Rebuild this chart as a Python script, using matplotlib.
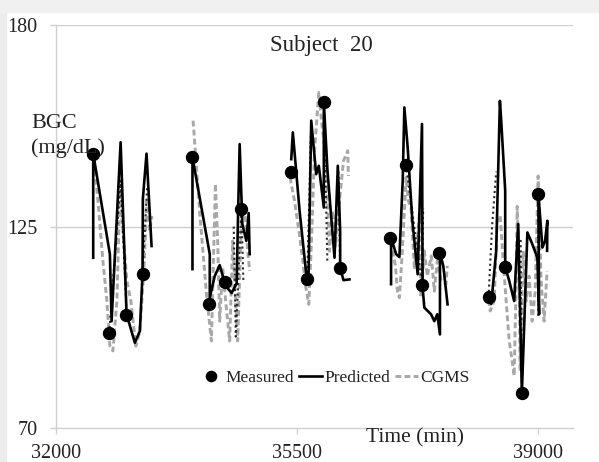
import matplotlib.pyplot as plt
import matplotlib.patches as mpatches
import numpy as np

plt.rcParams['font.family'] = ['Liberation Serif', 'DejaVu Serif']

nan = np.nan

# measured finger-stick values
meas_x = [32532, 32772, 33014, 33256,
          33975, 34217, 34459, 34691,
          35405, 35647, 35888, 36125,
          36850, 37082, 37313, 37564,
          38279, 38521, 38763, 39003]
meas_y = [144.9, 95.9, 100.8, 112.2,
          143.9, 103.8, 109.9, 129.9,
          139.9, 110.8, 158.9, 113.8,
          122.0, 141.8, 109.0, 117.9,
          105.8, 114.0, 79.6, 133.9]

# model prediction (nan splits the days)
pred_x = [32540, 32540, 32782, 32807, 32938, 33024, 33145, 33217, 33256, 33261, 33314, 33387, nan,
          33981, 33981, 34232, 34232, 34304, 34376, 34463, 34550, 34623, 34644, 34666, 34705, 34763, 34797, 34811, nan,
          35415, 35438, 35536, 35633, 35666, 35705, 35777, 35815, 35888, 35888, 35941, 36043, 36091, 36125, 36125, 36173, 36260, nan,
          36864, 36864, 36937, 36985, 37033, 37057, 37105, 37173, 37250, 37313, 37322, 37347, 37444, 37492, 37535, 37574, 37574, 37622, 37684, nan,
          38279, 38318, 38390, 38444, 38463, 38521, 38521, 38579, 38651, 38710, 38763, 38843, 38915, 38988, 39013, 39003, 39061, 39100, 39133, 39129]
pred_y = [116.5, 144.9, 117.5, 99.2, 148.0, 101.1, 93.3, 96.5, 112.2, 132.6, 144.9, 119.7, nan,
          113.4, 143.9, 117.5, 105.6, 111.5, 114.5, 108.8, 106.9, 109.6, 129.3, 147.5, 125.7, 121.1, 128.7, 117.5, nan,
          143.4, 150.7, 129.3, 112.0, 111.5, 153.9, 139.3, 141.6, 130.2, 158.9, 140.2, 116.5, 141.6, 123.8, 113.8, 110.4, 110.6, nan,
          109.3, 122.0, 117.5, 116.7, 137.5, 157.5, 146.6, 126.6, 112.0, 153.0, 108.3, 102.9, 101.1, 99.2, 101.1, 95.6, 117.9, 114.3, 103.8, nan,
          105.8, 103.9, 118.3, 159.3, 153.9, 134.8, 114.0, 110.2, 104.7, 125.7, 79.6, 123.4, 120.2, 116.5, 101.1, 133.9, 119.3, 121.1, 126.6, 118.4]

# continuous glucose monitor
cgms_x = [32551, 32609, 32681, 32739, 32782, 32826, 32884, 32927, 32971, 33029, 33087, 33159, 33217, 33275, 33319, 33362, 33391, nan,
          33990, 34043, 34087, 34145, 34184, 34256, 34289, 34314, 34347, 34376, 34420, 34463, 34521, 34565, 34608, 34637, 34691, 34739, 34782, 34811, nan,
          35376, 35420, 35463, 35536, 35583, 35623, 35670, 35709, 35753, 35815, 35854, 35922, 35970, 36014, 36057, 36115, 36173, 36235, 36245, nan,
          36883, 36927, 36956, 36985, 37028, 37082, 37115, 37154, 37202, 37245, 37274, 37298, 37347, 37390, 37448, 37492, 37535, 37593, 37661, 37680, nan,
          38260, 38303, 38361, 38405, 38448, 38492, 38535, 38579, 38622, 38651, 38680, 38695, 38724, 38738, 38782, 38825, 38869, 38912, 38956, 38999, 39042, 39086, 39129]
cgms_y = [142.9, 132.0, 115.6, 104.7, 92.4, 91.1, 104.7, 134.8, 123.8, 110.2, 104.7, 92.4, 96.5, 112.9, 132.0, 123.8, 127.9, nan,
          153.9, 140.2, 128.5, 115.6, 106.6, 93.8, 118.3, 136.7, 121.1, 99.2, 113.7, 104.7, 93.8, 121.1, 104.7, 93.8, 126.6, 130.2, 118.3, 112.9, nan,
          140.8, 136.1, 132.0, 122.5, 115.6, 108.8, 103.8, 121.1, 145.7, 161.6, 153.9, 142.9, 118.3, 129.3, 119.7, 132.0, 142.9, 145.7, 138.8, nan,
          118.4, 114.3, 107.4, 105.6, 118.4, 138.4, 132.0, 130.2, 113.8, 121.1, 128.4, 105.6, 118.4, 111.5, 117.0, 107.4, 115.6, 110.2, 109.3, 114.3, nan,
          107.4, 102.0, 104.7, 126.6, 128.0, 115.6, 104.7, 93.8, 88.3, 84.3, 110.2, 130.5, 110.2, 85.6, 118.4, 104.7, 111.5, 99.2, 107.4, 138.8, 110.2, 99.2, 112.9]

# unlabeled dark dotted trace
dot_x = [32772, 32938, 33024, nan, 33256, 33323, nan,
         34580, 34610, 34691, 34720, nan,
         35647, 35700, nan, 35888, 35940, nan, 36100, 36125, nan,
         37082, 37313, 37330, nan,
         38279, 38330, 38390, nan, 38763, 38745, nan, 39003, 39000]
dot_y = [95.9, 137.5, 102.0, nan, 112.2, 135.7, nan,
         125.0, 95.0, 129.9, 110.0, nan,
         110.8, 150.0, nan, 158.9, 115.0, nan, 140.0, 113.8, nan,
         141.8, 109.0, 130.0, nan,
         105.8, 125.0, 140.0, nan, 79.6, 122.0, nan, 133.9, 100.0]

fig = plt.figure(figsize=(5.99, 4.62), dpi=100)

# light screenshot border on the left and top
fig.patches.append(mpatches.Rectangle((0, 0), 6 / 599, 1, transform=fig.transFigure,
                                      color='#ececec', zorder=0))
fig.patches.append(mpatches.Rectangle((0, 1 - 12 / 462), 1, 12 / 462, transform=fig.transFigure,
                                      color='#f0f0f0', zorder=0))

ax = fig.add_axes([0.0935, 0.073, 0.8625, 0.873])
ax.patch.set_alpha(0)

grid_c = '#cfcfcf'
ax.plot(cgms_x, cgms_y, color='#a8a8a8', lw=2.1, linestyle=(0, (2, 1.1)), label='CGMS', zorder=2)
ax.plot(dot_x, dot_y, color='#2a2a2a', lw=1.5, linestyle=(0, (1, 1.5)), zorder=3)
ax.plot(pred_x, pred_y, color='black', lw=1.9, label='Predicted', zorder=4)
ax.plot(meas_x, meas_y, 'o', color='black', markersize=8.6, label='Measured', zorder=5)

ax.set_xlim(32000, 39500)
ax.set_ylim(70, 180)
ax.set_xticks([32000, 35500, 39000])
ax.set_yticks([70, 125, 180])
for v in [125, 180]:
    ax.axhline(v, color=grid_c, lw=1, zorder=1)

for s in ['top', 'right']:
    ax.spines[s].set_visible(False)
for s in ['left', 'bottom']:
    ax.spines[s].set_color(grid_c)
    ax.spines[s].set_linewidth(1)

ax.tick_params(axis='y', length=4.5, color=grid_c, width=1, pad=9, labelsize=14.5, labelcolor='#222222')
ax.tick_params(axis='x', length=4, color=grid_c, width=1, direction='out', pad=7, labelsize=14.5, labelcolor='#222222')

fig.text(321 / 599, 1 - 45 / 462, 'Subject  20', ha='center', va='center', fontsize=16.5, color='#222222')
fig.text(31 / 599, 1 - 136 / 462, 'BGC\n(mg/dL)', ha='left', va='center', fontsize=16,
         color='#222222', linespacing=1.3)
fig.text(415 / 599, 1 - 438 / 462, 'Time (min)', ha='center', va='center', fontsize=15.5, color='#222222')

h, l = ax.get_legend_handles_labels()
order = [2, 1, 0]
fig.legend([h[i] for i in order], [l[i] for i in order], loc='center',
           bbox_to_anchor=(335 / 599, 1 - 378 / 462), ncol=3, frameon=False,
           fontsize=12.5, handlelength=1.3, handletextpad=0.15, columnspacing=0.3,
           markerscale=0.85, labelcolor='#222222')

fig.savefig('out.png', dpi=100, facecolor='white')
